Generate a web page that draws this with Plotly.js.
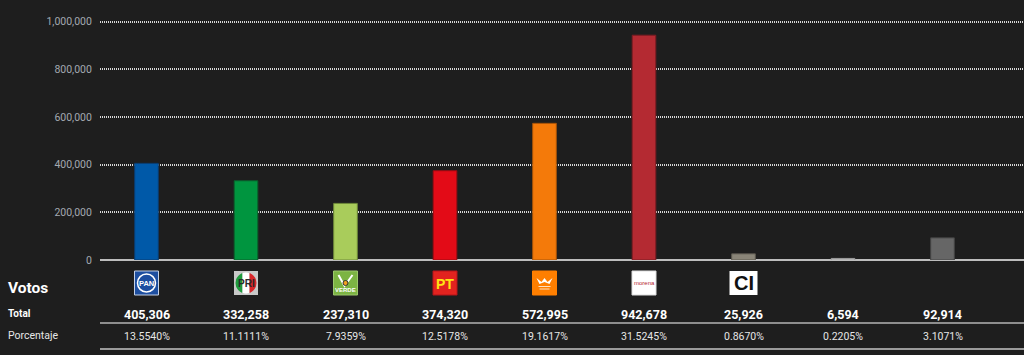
<!DOCTYPE html>
<html>
<head>
<meta charset="utf-8">
<script src="https://cdn.plot.ly/plotly-3.0.1.min.js"></script>
<style>
  html, body { margin: 0; padding: 0; background: #1e1e1e; }
  #chart { width: 1024px; height: 355px; }
</style>
</head>
<body>
<div id="chart"></div>
<script>
// ---- Data ----
const categories = ['PAN', 'PRI', 'PVEM', 'PT', 'MC', 'MORENA', 'CI', 'Candidatos no registrados', 'Votos nulos'];
const votes = [405306, 332258, 237310, 374320, 572995, 942678, 25926, 6594, 92914];
const percentages = [13.5540, 11.1111, 7.9359, 12.5178, 19.1617, 31.5245, 0.8670, 0.2205, 3.1071];
const rowLabels = ['Votos', 'Total', 'Porcentaje'];
const yTickValues = [0, 200000, 400000, 600000, 800000, 1000000];

// ---- Styles ----
const barColors = ['#0059a8', '#00953f', '#a9cc5b', '#e30b17', '#f47a0a', '#b42a32', '#8a8578', '#cfcfcf', '#666666'];
const barLines = ['#0a3d70', '#0b5e2c', '#6f8a3a', '#9a0c12', '#a85408', '#7a1c22', '#5e5a50', '#999999', '#444444'];
const FONT = 'Roboto, "Open Sans", sans-serif';

// geometry helpers (pixel -> paper)
const H = 355, MT = 19, MB = 95, ML = 100, W = 1024;
const plotH = H - MT - MB;
const plotW = W - ML;
const py = Y => (H - MB - Y) / plotH;
const px = X => (X - ML) / plotW;
const yMax = 1010500;

function fmt(n) { return n.toLocaleString('en-US'); }

// circle segment polygon between vertical lines a..b (pixel offsets)
function seg(r, a, b) {
  const pts = [];
  const n = 12;
  for (let k = 0; k <= n; k++) { const x = a + (b - a) * k / n; pts.push([x, Math.sqrt(Math.max(0, r * r - x * x))]); }
  for (let k = n; k >= 0; k--) { const x = a + (b - a) * k / n; pts.push([x, -Math.sqrt(Math.max(0, r * r - x * x))]); }
  return 'M ' + pts.map(p => p[0].toFixed(2) + ',' + p[1].toFixed(2)).join(' L ') + ' Z';
}

const logoY = py(283);
function pixRect(i, x0, x1, y0, y1, fill, line, lw) {
  return { type: 'rect', layer: 'above', xref: 'x', yref: 'paper', xsizemode: 'pixel', ysizemode: 'pixel',
    xanchor: i, yanchor: logoY, x0: x0, x1: x1, y0: y0, y1: y1,
    fillcolor: fill, line: { color: line || fill, width: lw === undefined ? 1 : lw } };
}
function pixPath(i, path, fill, line, lw) {
  return { type: 'path', layer: 'above', xref: 'x', yref: 'paper', xsizemode: 'pixel', ysizemode: 'pixel',
    xanchor: i, yanchor: logoY, path: path, fillcolor: fill, line: { color: line || fill, width: lw === undefined ? 0 : lw } };
}
function pixCircle(i, r, fill, line, lw) {
  return { type: 'circle', layer: 'above', xref: 'x', yref: 'paper', xsizemode: 'pixel', ysizemode: 'pixel',
    xanchor: i, yanchor: logoY, x0: -r, x1: r, y0: -r, y1: r, fillcolor: fill, line: { color: line, width: lw } };
}
function logoText(i, text, size, color, dy, weight) {
  return { xref: 'x', yref: 'paper', x: i, y: logoY, yshift: dy || 0, text: text, showarrow: false,
    xanchor: 'center', yanchor: 'middle', font: { family: 'Arial, "Liberation Sans", sans-serif', size: size, color: color, weight: weight || 700 } };
}

const shapes = [
  // table lines
  { type: 'line', xref: 'paper', yref: 'paper', x0: 0, x1: 1, y0: py(323), y1: py(323), line: { color: '#b4b4b4', width: 1.5 } },
  { type: 'line', xref: 'paper', yref: 'paper', x0: 0, x1: 1, y0: py(349), y1: py(349), line: { color: '#9a9a9a', width: 2 } },
  // PAN
  pixRect(0, -12, 12, -12, 12, '#1d4ea0', '#c4d0e6', 1),
  pixCircle(0, 9, 'rgba(0,0,0,0)', '#ffffff', 1.5),
  // PRI
  pixRect(1, -12, 12, -12, 12, '#c8c8c8', '#c8c8c8', 0),
  pixPath(1, seg(10.5, -10.5, -3.5), '#1e9a3c'),
  pixPath(1, seg(10.5, -3.5, 3.5), '#ffffff'),
  pixPath(1, seg(10.5, 3.5, 10.5), '#d8262a'),
  // VERDE
  pixRect(2, -12, 12, -12, 12, '#7cb443', '#9cc86c', 1),
  pixPath(2, 'M -7,8 L -1,-3 L 7,8', 'rgba(0,0,0,0)', '#ffffff', 2),
  pixCircle(2, 2.5, '#f0a020', '#333333', 1),
  // PT
  pixRect(3, -12, 12, -12, 12, '#e2231f', '#b5151a', 1),
  // MC
  pixRect(4, -12, 12, -12, 12, '#ff7f00', '#ff7f00', 1),
  pixPath(4, 'M -8,5 L -3,1 L 0,5 L 3,1 L 8,5 L 5,-1 L 0,1 L -5,-1 Z', '#ffffff'),
  pixRect(4, -6, 6, -4, -3, '#ffe0c0', '#ffe0c0', 0),
  pixRect(4, -5, 5, -6.5, -5.5, '#ffe0c0', '#ffe0c0', 0),
  // morena
  pixRect(5, -12, 12, -12, 12, '#ffffff', '#dddddd', 1),
  // CI
  pixRect(6, -14, 14, -12, 12, '#ffffff', '#ffffff', 0)
];

const annotations = [];
// logo texts
annotations.push(logoText(0, 'PAN', 7.5, '#ffffff', 0));
annotations.push(logoText(1, 'PRI', 10, '#2a2a2a', 0));
annotations.push(logoText(2, 'VERDE', 6, '#ffffff', -7));
annotations.push(logoText(3, 'PT', 14, '#ffe313', -1));
annotations.push(logoText(5, 'morena', 6, '#b5262f', 0, 400));
annotations.push(logoText(6, 'CI', 20, '#111111', 0));

// row labels
annotations.push({ xref: 'paper', yref: 'paper', x: px(6), y: py(288), text: rowLabels[0], showarrow: false,
  xanchor: 'left', yanchor: 'middle', font: { family: FONT, size: 15.5, color: '#ffffff', weight: 700 } });
annotations.push({ xref: 'paper', yref: 'paper', x: px(6), y: py(313.5), text: rowLabels[1], showarrow: false,
  xanchor: 'left', yanchor: 'middle', font: { family: FONT, size: 10, color: '#ffffff', weight: 700 } });
annotations.push({ xref: 'paper', yref: 'paper', x: px(6), y: py(335.5), text: rowLabels[2], showarrow: false,
  xanchor: 'left', yanchor: 'middle', font: { family: FONT, size: 10.5, color: '#e6e6e6', weight: 400 } });

// table values
categories.forEach((c, i) => {
  annotations.push({ xref: 'x', yref: 'paper', x: i, y: py(314), text: fmt(votes[i]), showarrow: false,
    xanchor: 'center', yanchor: 'middle', font: { family: FONT, size: 12.5, color: '#ffffff', weight: 700 } });
  annotations.push({ xref: 'x', yref: 'paper', x: i, y: py(336), text: percentages[i].toFixed(4) + '%', showarrow: false,
    xanchor: 'center', yanchor: 'middle', font: { family: FONT, size: 10.5, color: '#e6e6e6', weight: 400 } });
});

// category axis placement: first column centre ~146.5px, step ~99.5px
const step = 99.5, first = 146.5;
const xr0 = (ML - first) / step;
const xr1 = xr0 + plotW / step;

const trace = {
  type: 'bar',
  x: categories,
  y: votes,
  width: 23.6 / step,
  marker: { color: barColors, line: { color: barLines, width: 1 } },
  hoverinfo: 'none'
};

const layout = {
  width: 1024, height: 355,
  margin: { l: ML, r: 0, t: MT, b: MB, pad: 0 },
  paper_bgcolor: '#1e1e1e',
  plot_bgcolor: '#1e1e1e',
  showlegend: false,
  font: { family: FONT, color: '#a3a9b0' },
  xaxis: {
    type: 'category', range: [xr0, xr1], showticklabels: false, showgrid: false,
    zeroline: false, showline: false, ticks: '', fixedrange: true
  },
  yaxis: {
    range: [0, yMax], tickvals: yTickValues, tickformat: ',d',
    tickfont: { family: FONT, size: 10.5, color: '#a3a9b0' },
    showgrid: true, gridcolor: '#d8d8d8', gridwidth: 2, griddash: '1px,1px',
    zeroline: true, zerolinecolor: '#bdbdbd', zerolinewidth: 2,
    showline: false, ticks: 'outside', ticklen: 5, tickcolor: 'rgba(0,0,0,0)', fixedrange: true
  },
  shapes: shapes,
  annotations: annotations
};

Plotly.newPlot('chart', [trace], layout, { displayModeBar: false, staticPlot: true });
</script>
</body>
</html>
